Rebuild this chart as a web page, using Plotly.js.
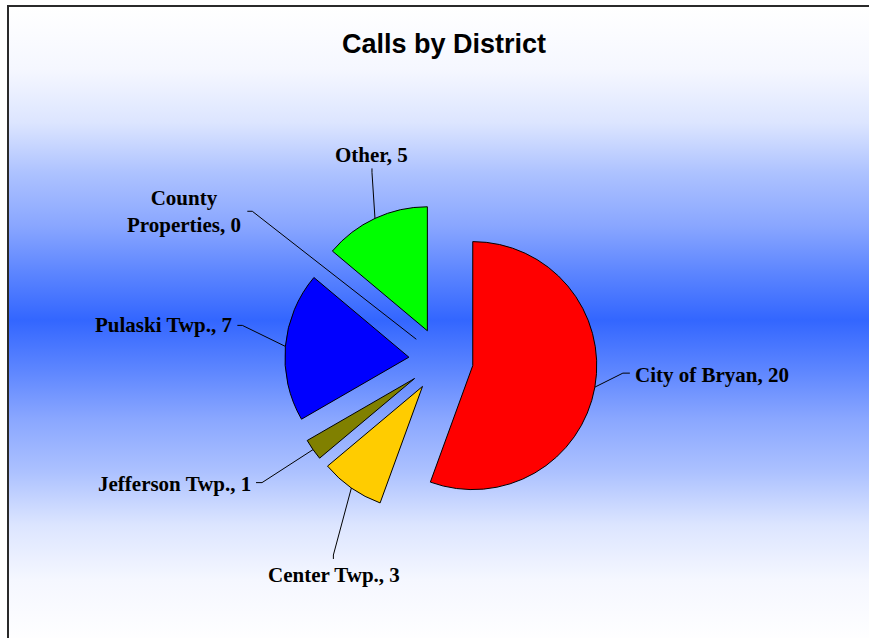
<!DOCTYPE html>
<html>
<head>
<meta charset="utf-8">
<script src="https://cdn.plot.ly/plotly-3.0.1.min.js"></script>
<style>
html, body { margin: 0; padding: 0; background: #ffffff; }
#wrap { position: relative; width: 869px; height: 638px; overflow: hidden; background: #ffffff; }
#bg { position: absolute; left: 7px; top: 5px; width: 900px; height: 650px;
      border-left: 2px solid #2a2a2a; border-top: 2px solid #2a2a2a; }
#chart { position: absolute; left: 0; top: 0; width: 869px; height: 638px; }
</style>
</head>
<body>
<div id="wrap">
  <div id="bg"></div>
  <div id="chart"></div>
</div>
<script>
// ---- data ----
var categories = ["City of Bryan", "Center Twp.", "Jefferson Twp.", "Pulaski Twp.", "County Properties", "Other"];
var calls = [20, 3, 1, 7, 0, 5];
var labelTexts = ["City of Bryan, 20", "Center Twp., 3", "Jefferson Twp., 1", "Pulaski Twp., 7", "County<br>Properties, 0", "Other, 5"];

// ---- style ----
var W = 869, H = 638;
var sliceColors = ["#FF0000", "#FFCC00", "#808000", "#0000FF", "#FF00FF", "#00FF00"];
var CX = 441, CY = 360, R = 124, PULL = 0.26;
// leader line elbow offsets (px, from slice anchor), stub, label placement
var leaderStyle = [
  {ex: 28,   ey: -14,  sx: 7,  sy: 0,  lx: 3,  ly: 2,  xa: "left",   ya: "middle"},
  {ex: -18,  ey: 67,   sx: 0,  sy: 4,  lx: 1,  ly: 16, xa: "center", ya: "middle"},
  {ex: -51,  ey: 33,   sx: -6, sy: 0,  lx: -3, ly: 1,  xa: "right",  ya: "middle"},
  {ex: -43,  ey: -21,  sx: -5, sy: 0,  lx: -3, ly: 0,  xa: "right",  ya: "middle"},
  {ex: -164, ey: -128, sx: -5, sy: 0,  lx: -4, ly: 0,  xa: "right",  ya: "middle"},
  {ex: -3,   ey: -46,  sx: 0,  sy: -4, lx: 0,  ly: -13, xa: "center", ya: "middle"}
];

// gradient background (white -> blue -> white)
(function () {
  var peak = 313, span = 313;
  var tf = [[0, 0], [0.15, 0.2], [0.3, 0.42], [0.47, 0.6], [0.63, 0.83], [0.8, 0.95], [1, 1]];
  function col(f) {
    return "rgb(" + Math.round(51 + 204 * f) + "," + Math.round(102 + 153 * f) + ",255)";
  }
  var stops = [];
  for (var i = tf.length - 1; i >= 0; i--) stops.push(col(tf[i][1]) + " " + (peak - tf[i][0] * span).toFixed(0) + "px");
  for (var j = 1; j < tf.length; j++) stops.push(col(tf[j][1]) + " " + (peak + tf[j][0] * (span + 12)).toFixed(0) + "px");
  document.getElementById("bg").style.background = "linear-gradient(to bottom, " + stops.join(", ") + ")";
})();

var S = R * (2 + 2 * PULL);
var trace = {
  type: "pie",
  labels: categories,
  values: calls,
  sort: false,
  direction: "clockwise",
  rotation: 0,
  pull: PULL,
  textinfo: "none",
  hoverinfo: "label+value",
  showlegend: false,
  marker: {
    colors: sliceColors,
    line: { color: "#000000", width: calls.map(function (v) { return v > 0 ? 1 : 0; }) }
  },
  domain: { x: [(CX - S / 2) / W, (CX + S / 2) / W], y: [1 - (CY + S / 2) / H, 1 - (CY - S / 2) / H] }
};

function px(x) { return x / W; }
function py(y) { return 1 - y / H; }

var total = calls.reduce(function (a, b) { return a + b; }, 0);
var shapes = [], annotations = [];
var cum = 0;
for (var i = 0; i < calls.length; i++) {
  var mid = (cum + calls[i] / 2) / total * 2 * Math.PI;
  cum += calls[i];
  var dx = Math.sin(mid), dy = -Math.cos(mid);
  var ax = CX + PULL * R * dx, ay = CY + PULL * R * dy;
  var tx = calls[i] > 0 ? ax + R * dx : ax;
  var ty = calls[i] > 0 ? ay + R * dy : ay;
  var st = leaderStyle[i];
  var exx = tx + st.ex, eyy = ty + st.ey;
  var sxx = exx + st.sx, syy = eyy + st.sy;
  shapes.push({
    type: "path", xref: "paper", yref: "paper",
    path: "M" + px(tx) + "," + py(ty) + " L" + px(exx) + "," + py(eyy) + " L" + px(sxx) + "," + py(syy),
    line: { color: "#000000", width: 1 }
  });
  annotations.push({
    xref: "paper", yref: "paper", x: px(sxx + st.lx), y: py(syy + st.ly),
    xanchor: st.xa, yanchor: st.ya, align: "center", showarrow: false,
    text: labelTexts[i],
    font: { family: "Liberation Serif, Times New Roman, serif", size: 21, color: "#000000", weight: "bold" }
  });
}

var layout = {
  width: W, height: H,
  margin: { l: 0, r: 0, t: 0, b: 0 },
  paper_bgcolor: "rgba(0,0,0,0)",
  plot_bgcolor: "rgba(0,0,0,0)",
  title: {
    text: "<b>Calls by District</b>",
    font: { family: "Liberation Sans, Arial, sans-serif", size: 27, color: "#000000" },
    xref: "paper", yref: "paper", x: 444 / W, xanchor: "center", y: 1 - 44 / H, yanchor: "middle"
  },
  shapes: shapes,
  annotations: annotations
};

Plotly.newPlot("chart", [trace], layout, { displayModeBar: false, staticPlot: true });
</script>
</body>
</html>
